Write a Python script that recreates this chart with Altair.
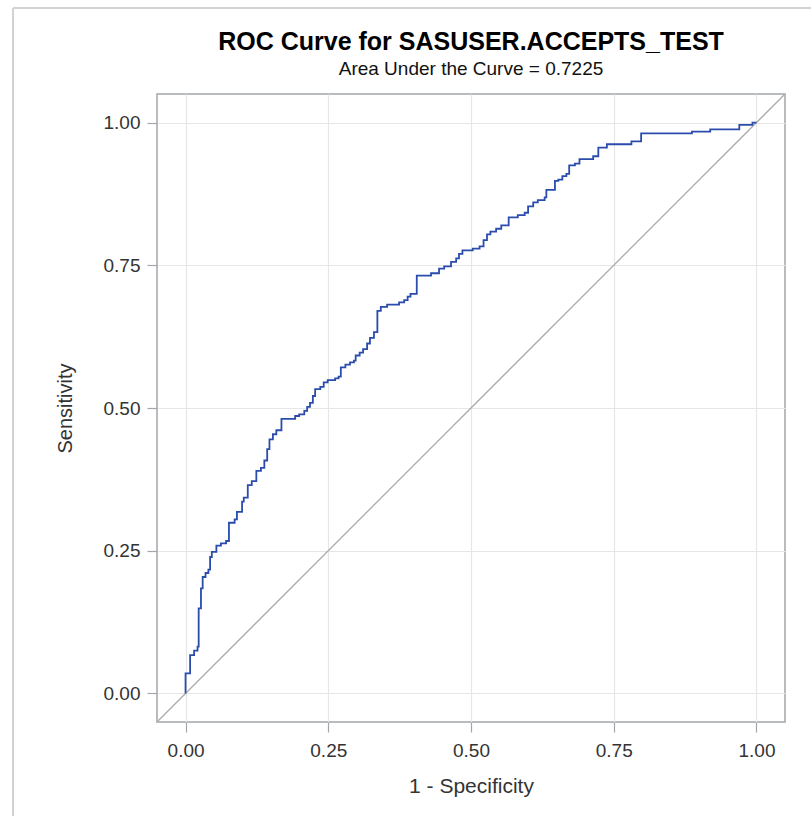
import altair as alt
import pandas as pd

# ROC operating points (1 - specificity, sensitivity), drawn as a step curve
fpr = [0.000, 0.000, 0.008, 0.015, 0.021, 0.023, 0.027, 0.030, 0.035, 0.040,
       0.043, 0.046, 0.054, 0.062, 0.071, 0.076, 0.086, 0.090, 0.099, 0.102,
       0.109, 0.116, 0.124, 0.132, 0.138, 0.143, 0.147, 0.153, 0.159, 0.168,
       0.192, 0.199, 0.208, 0.213, 0.218, 0.223, 0.227, 0.236, 0.242, 0.249,
       0.262, 0.268, 0.272, 0.280, 0.288, 0.295, 0.298, 0.305, 0.311, 0.318,
       0.323, 0.330, 0.336, 0.342, 0.353, 0.374, 0.383, 0.389, 0.394, 0.405,
       0.430, 0.444, 0.453, 0.465, 0.474, 0.479, 0.485, 0.503, 0.515, 0.522,
       0.528, 0.534, 0.544, 0.553, 0.566, 0.582, 0.594, 0.600, 0.609, 0.617,
       0.629, 0.632, 0.647, 0.653, 0.660, 0.667, 0.672, 0.682, 0.690, 0.714,
       0.723, 0.738, 0.781, 0.798, 0.887, 0.919, 0.970, 0.993, 1.000]
tpr = [0.000, 0.035, 0.067, 0.075, 0.082, 0.149, 0.184, 0.204, 0.211, 0.217,
       0.239, 0.248, 0.259, 0.263, 0.267, 0.299, 0.305, 0.318, 0.336, 0.343,
       0.365, 0.372, 0.390, 0.395, 0.408, 0.428, 0.445, 0.454, 0.461, 0.481,
       0.486, 0.489, 0.495, 0.502, 0.509, 0.521, 0.533, 0.537, 0.545, 0.549,
       0.552, 0.555, 0.571, 0.576, 0.580, 0.583, 0.592, 0.597, 0.603, 0.613,
       0.623, 0.633, 0.670, 0.677, 0.681, 0.685, 0.689, 0.695, 0.700, 0.732,
       0.736, 0.744, 0.748, 0.756, 0.762, 0.770, 0.776, 0.779, 0.783, 0.794,
       0.804, 0.809, 0.814, 0.820, 0.834, 0.838, 0.842, 0.853, 0.860, 0.864,
       0.869, 0.882, 0.898, 0.900, 0.906, 0.910, 0.925, 0.928, 0.936, 0.941,
       0.956, 0.962, 0.967, 0.981, 0.984, 0.988, 0.996, 1.000, 1.000]

# chance diagonal across the full axis range
diag_x = [-0.05, 1.05]
axis_ticks = [0.0, 0.25, 0.5, 0.75, 1.0]
axis_range = [-0.05, 1.05]

FONT = "Liberation Sans"
roc = pd.DataFrame({"fpr": fpr, "tpr": tpr, "order": range(len(fpr))})
diag = pd.DataFrame({"x": diag_x, "y": diag_x})

xscale = alt.Scale(domain=axis_range, nice=False, zero=False)
yscale = alt.Scale(domain=axis_range, nice=False, zero=False)

x_axis = alt.Axis(title="1 - Specificity", values=axis_ticks, format=".2f",
                  labelPadding=9, titlePadding=15, titleFontSize=21)
y_axis = alt.Axis(title="Sensitivity", values=axis_ticks, format=".2f",
                  labelPadding=7, titlePadding=28, titleFontSize=20)

diag_line = alt.Chart(diag).mark_line(color="#ABABAB", strokeWidth=1.3, clip=True).encode(
    x=alt.X("x:Q", scale=xscale, axis=x_axis),
    y=alt.Y("y:Q", scale=yscale, axis=y_axis),
)

roc_line = alt.Chart(roc).mark_line(color="#2A4DAD", strokeWidth=1.8,
                                    interpolate="step-after", clip=True).encode(
    x=alt.X("fpr:Q", scale=xscale),
    y=alt.Y("tpr:Q", scale=yscale),
    order="order:Q",
)

# light outer frame around the graph
frame_top = alt.Chart(diag).mark_rule(color="#CFCFCF", strokeWidth=1.5).encode(
    x=alt.value(-144), x2=alt.value(660), y=alt.value(-86))
frame_left = alt.Chart(diag).mark_rule(color="#CFCFCF", strokeWidth=1.5).encode(
    x=alt.value(-144), y=alt.value(-86), y2=alt.value(730))

chart = alt.layer(frame_top, frame_left, diag_line, roc_line).properties(
    width=628,
    height=628,
    background="white",
    padding={"left": 157, "top": 94, "right": 26, "bottom": 94},
    autosize=alt.AutoSizeParams(type="none"),
    title=alt.TitleParams(
        text="ROC Curve for SASUSER.ACCEPTS_TEST",
        subtitle="Area Under the Curve = 0.7225",
        font=FONT, fontSize=25, fontWeight="bold", color="#000000",
        subtitleFont=FONT, subtitleFontSize=19, subtitleColor="#111111",
        anchor="middle", frame="group", offset=-72, subtitlePadding=5,
    ),
).configure_view(
    stroke="#A3A6AA", strokeWidth=1.5
).configure_axis(
    domain=False,
    grid=True, gridColor="#E6E6E6", gridWidth=1.2,
    ticks=True, tickColor="#A3A6AA", tickSize=10, tickWidth=1.2,
    labelFont=FONT, labelFontSize=19, labelColor="#333333",
    titleFont=FONT, titleColor="#333333", titleFontWeight="normal",
)

chart.save("out.html", embed_options={"renderer": "svg", "actions": False})
